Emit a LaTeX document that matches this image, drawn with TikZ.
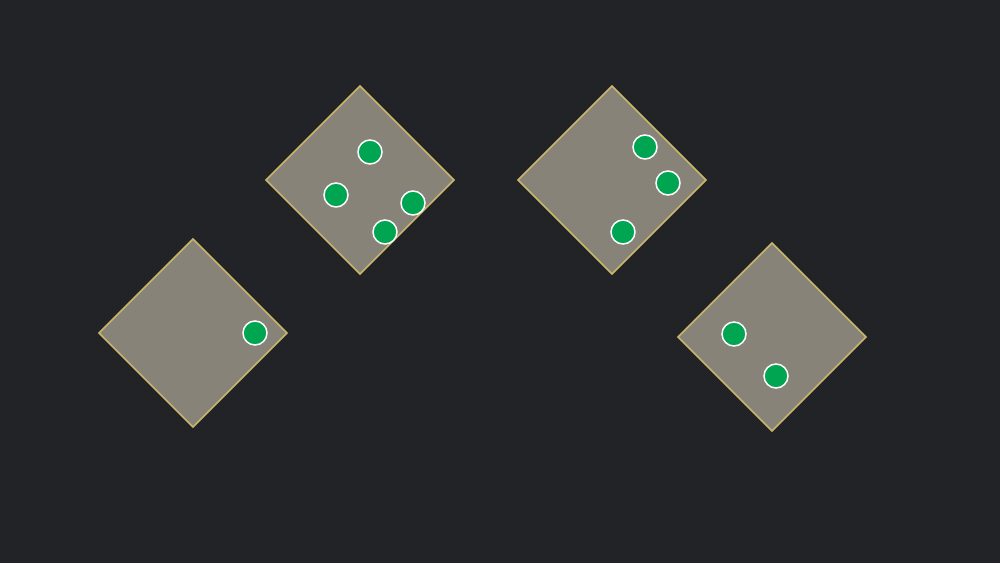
\documentclass[tikz,border=0pt]{standalone}
\definecolor{bgc}{HTML}{222327}
\definecolor{tilefill}{HTML}{878378}
\definecolor{tileedge}{HTML}{C9B66A}
\definecolor{dotgreen}{HTML}{00A551}
\tikzset{
  tile/.style={fill=tilefill, draw=tileedge, line width=1.6pt, line join=miter},
  dot/.style={circle, fill=dotgreen, draw=white, line width=1.5pt, minimum size=24pt, inner sep=0pt}
}
\begin{document}
\begin{tikzpicture}[x=1pt,y=-1pt]
\fill[bgc] (0,0) rectangle (1000,563);
\useasboundingbox (0,0) rectangle (1000,563);
% tiles
\draw[tile] (193,239) -- (287,333) -- (193,427) -- (99,333) -- cycle;
\draw[tile] (360,86) -- (454,180) -- (360,274) -- (266,180) -- cycle;
\draw[tile] (612,86) -- (706,180) -- (612,274) -- (518,180) -- cycle;
\draw[tile] (772,243) -- (866,337) -- (772,431) -- (678,337) -- cycle;
% dots
\node[dot] (a1) at (255,333) {};
\node[dot] (b1) at (370,152) {};
\node[dot] (b2) at (336,195) {};
\node[dot] (b3) at (413,203) {};
\node[dot] (b4) at (385,232) {};
\node[dot] (c1) at (645,147) {};
\node[dot] (c2) at (668,183) {};
\node[dot] (c3) at (623,232) {};
\node[dot] (d1) at (734,334) {};
\node[dot] (d2) at (776,376) {};
\end{tikzpicture}
\end{document}
